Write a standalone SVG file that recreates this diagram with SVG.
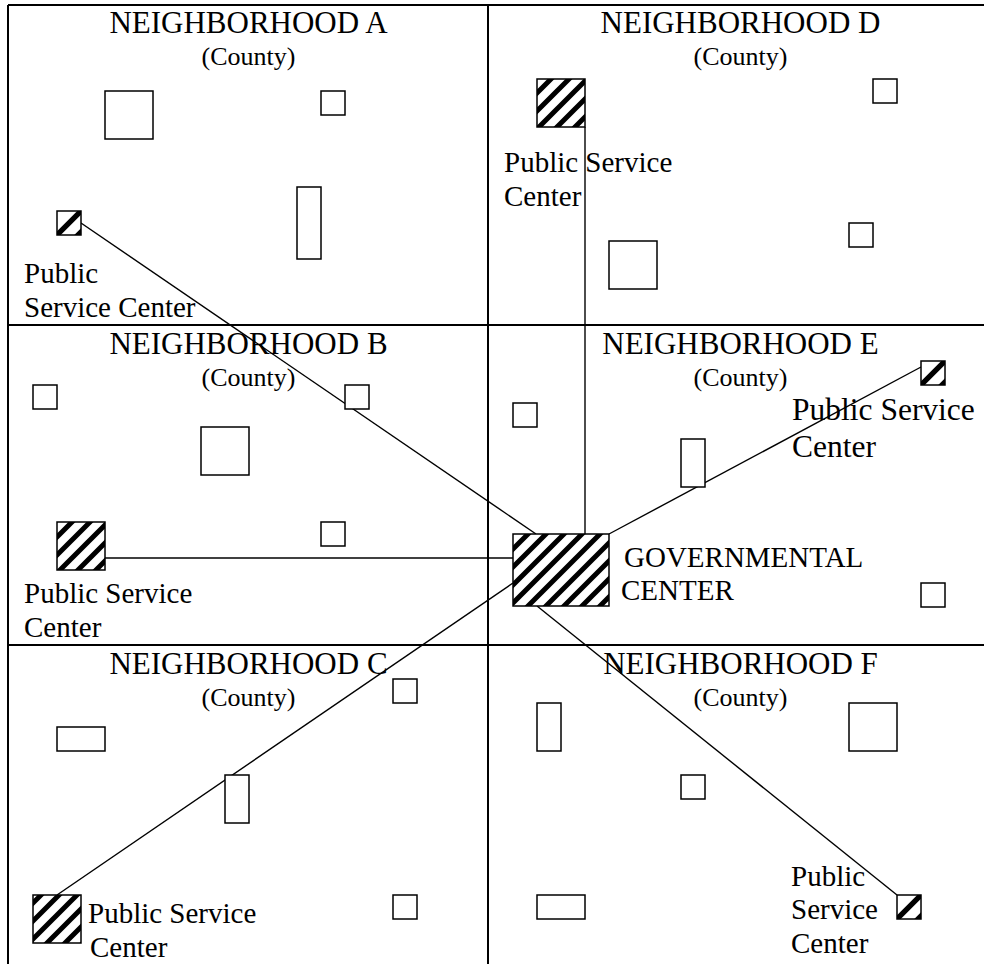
<svg xmlns="http://www.w3.org/2000/svg" width="984" height="964" viewBox="0 0 984 964">
<style>
.grid{stroke:#000;stroke-width:2;fill:none}
.bldg{fill:#fff;stroke:#000;stroke-width:1.5}
.hatch{fill:url(#hatch);stroke:#000;stroke-width:1.5}
.hatchS{fill:url(#hatchS);stroke:#000;stroke-width:1.5}
.conn{stroke:#000;stroke-width:1.4;fill:none}
.title{font-family:"Liberation Serif","Times New Roman",serif;font-size:31px;fill:#000;text-anchor:middle}
.county{font-family:"Liberation Serif","Times New Roman",serif;font-size:26px;fill:#000;text-anchor:middle}
.lbl{font-family:"Liberation Serif","Times New Roman",serif;font-size:29px;fill:#000}
.lblL{font-family:"Liberation Serif","Times New Roman",serif;font-size:31.5px;fill:#000}
</style>
<defs>
<pattern id="hatch" patternUnits="userSpaceOnUse" width="18" height="18">
<rect width="18" height="18" fill="#fff"/>
<path d="M-4.5,4.5 L4.5,-4.5 M0,18 L18,0 M13.5,22.5 L22.5,13.5" stroke="#000" stroke-width="5"/>
</pattern>
<pattern id="hatchS" patternUnits="objectBoundingBox" patternContentUnits="objectBoundingBox" width="1" height="1">
<rect width="1" height="1" fill="#fff"/>
<path d="M0,1 L1,0" stroke="#000" stroke-width="0.22"/>
<polygon points="1,0.72 1,1 0.72,1" fill="#000"/>
</pattern>
</defs>

<g id="grid">
<line class="grid" x1="8" y1="5" x2="984" y2="5"/>
<line class="grid" x1="8" y1="5" x2="8" y2="964"/>
<line class="grid" x1="488" y1="5" x2="488" y2="964"/>
<line class="grid" x1="8" y1="325" x2="984" y2="325"/>
<line class="grid" x1="8" y1="645" x2="984" y2="645"/>
</g>

<g id="connectors">
<line class="conn" x1="81" y1="223" x2="536" y2="534"/>
<line class="conn" x1="585" y1="127" x2="585" y2="534"/>
<line class="conn" x1="609" y1="534" x2="921" y2="367"/>
<line class="conn" x1="105" y1="558" x2="513" y2="558"/>
<line class="conn" x1="513" y1="583" x2="57" y2="895"/>
<line class="conn" x1="537" y1="606" x2="897" y2="895"/>
</g>

<g id="neighborhood-a">
<text class="title" x="248.5" y="33">NEIGHBORHOOD A</text>
<text class="county" x="248.5" y="65">(County)</text>
<rect class="bldg" x="105" y="91" width="48" height="48"/>
<rect class="bldg" x="321" y="91" width="24" height="24"/>
<rect class="bldg" x="297" y="187" width="24" height="72"/>
</g>
<g id="psc-a">
<rect class="hatchS" x="57" y="211" width="24" height="24"/>
<text class="lbl" x="24" y="283">Public</text>
<text class="lbl" x="24" y="317">Service Center</text>
</g>

<g id="neighborhood-d">
<text class="title" x="740.5" y="33">NEIGHBORHOOD D</text>
<text class="county" x="740.5" y="65">(County)</text>
<rect class="bldg" x="873" y="79" width="24" height="24"/>
<rect class="bldg" x="849" y="223" width="24" height="24"/>
<rect class="bldg" x="609" y="241" width="48" height="48"/>
</g>
<g id="psc-d">
<rect class="hatch" x="537" y="79" width="48" height="48"/>
<text class="lbl" x="504" y="172">Public Service</text>
<text class="lbl" x="504" y="206">Center</text>
</g>

<g id="neighborhood-b">
<text class="title" x="248.5" y="354">NEIGHBORHOOD B</text>
<text class="county" x="248.5" y="386">(County)</text>
<rect class="bldg" x="33" y="385" width="24" height="24"/>
<rect class="bldg" x="345" y="385" width="24" height="24"/>
<rect class="bldg" x="201" y="427" width="48" height="48"/>
<rect class="bldg" x="321" y="522" width="24" height="24"/>
</g>
<g id="psc-b">
<rect class="hatch" x="57" y="522" width="48" height="48"/>
<text class="lbl" x="24" y="603">Public Service</text>
<text class="lbl" x="24" y="637">Center</text>
</g>

<g id="neighborhood-e">
<text class="title" x="740.5" y="354">NEIGHBORHOOD E</text>
<text class="county" x="740.5" y="386">(County)</text>
<rect class="bldg" x="513" y="403" width="24" height="24"/>
<rect class="bldg" x="681" y="439" width="24" height="48"/>
<rect class="bldg" x="921" y="583" width="24" height="24"/>
</g>
<g id="psc-e">
<rect class="hatchS" x="921" y="361" width="24" height="24"/>
<text class="lblL" x="792" y="420">Public Service</text>
<text class="lblL" x="792" y="457">Center</text>
</g>

<g id="governmental-center">
<rect class="hatch" x="513" y="534" width="96" height="72"/>
<text class="lbl" x="624" y="567">GOVERNMENTAL</text>
<text class="lbl" x="621" y="600">CENTER</text>
</g>

<g id="neighborhood-c">
<text class="title" x="248.5" y="674">NEIGHBORHOOD C</text>
<text class="county" x="248.5" y="706">(County)</text>
<rect class="bldg" x="393" y="679" width="24" height="24"/>
<rect class="bldg" x="57" y="727" width="48" height="24"/>
<rect class="bldg" x="225" y="775" width="24" height="48"/>
<rect class="bldg" x="393" y="895" width="24" height="24"/>
</g>
<g id="psc-c">
<rect class="hatch" x="33" y="895" width="48" height="48"/>
<text class="lbl" x="88" y="923">Public Service</text>
<text class="lbl" x="90" y="957">Center</text>
</g>

<g id="neighborhood-f">
<text class="title" x="740.5" y="674">NEIGHBORHOOD F</text>
<text class="county" x="740.5" y="706">(County)</text>
<rect class="bldg" x="537" y="703" width="24" height="48"/>
<rect class="bldg" x="849" y="703" width="48" height="48"/>
<rect class="bldg" x="681" y="775" width="24" height="24"/>
<rect class="bldg" x="537" y="895" width="48" height="24"/>
</g>
<g id="psc-f">
<rect class="hatchS" x="897" y="895" width="24" height="24"/>
<text class="lbl" x="791" y="886">Public</text>
<text class="lbl" x="791" y="919">Service</text>
<text class="lbl" x="791" y="953">Center</text>
</g>
</svg>
